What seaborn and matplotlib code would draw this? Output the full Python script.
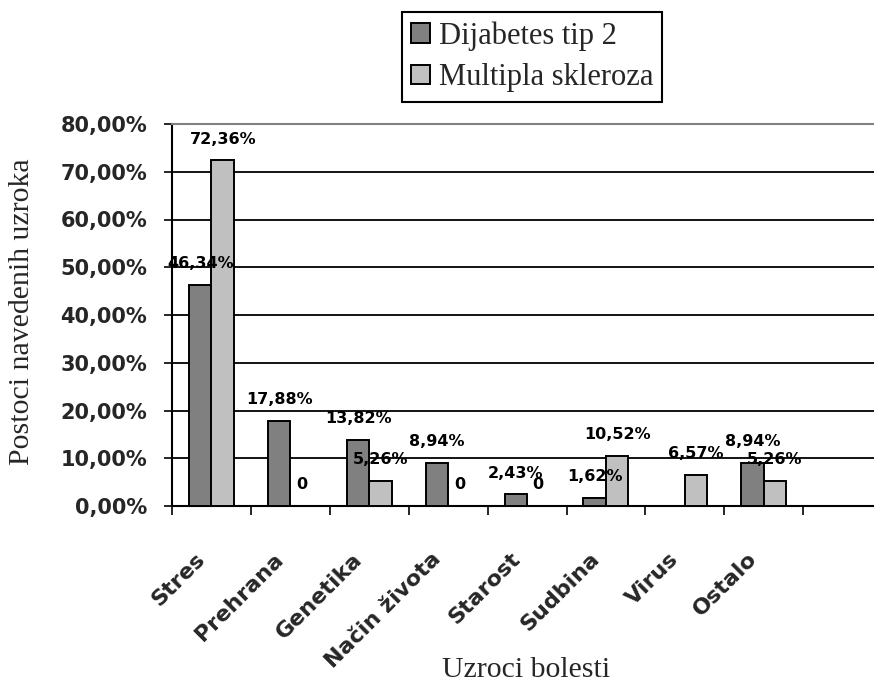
import numpy as np
import pandas as pd
import matplotlib
matplotlib.use("Agg")
import matplotlib.pyplot as plt
import matplotlib.ticker as mticker
import matplotlib.transforms as mtransforms
import seaborn as sns

# ---- data ----
categories = ["Stres", "Prehrana", "Genetika", "Način života", "Starost",
              "Sudbina", "Virus", "Ostalo"]
series_names = ["Dijabetes tip 2", "Multipla skleroza"]
dijabetes = [46.34, 17.88, 13.82, 8.94, 2.43, 1.62, np.nan, 8.94]
multipla = [72.36, 0.0, 5.26, 0.0, 0.0, 10.52, 6.57, 5.26]
colors = ["#808080", "#c0c0c0"]
y_ticks = [0, 10, 20, 30, 40, 50, 60, 70, 80]

df = pd.DataFrame({
    "Uzrok": categories * 2,
    "Bolest": [series_names[0]] * len(categories) + [series_names[1]] * len(categories),
    "Postotak": dijabetes + multipla,
})

sns.set_style("white")
plt.rcParams["font.family"] = ["DejaVu Sans"]

W, H = 874, 682
fig = plt.figure(figsize=(W / 100, H / 100), dpi=100)
ax_l, ax_r, ax_t, ax_b = 172, 874, 124, 506
ax = fig.add_axes([ax_l / W, 1 - ax_b / H, (ax_r - ax_l) / W, (ax_b - ax_t) / H])

sns.barplot(data=df, x="Uzrok", y="Postotak", hue="Bolest", order=categories,
            hue_order=series_names, palette=colors, width=0.57, errorbar=None,
            edgecolor="black", linewidth=1.4, saturation=1, ax=ax, zorder=3)

slot_px = 78.9
ax.set_xlim(-0.5, -0.5 + (ax_r - ax_l) / slot_px)
ax.set_ylim(0, 80)

# y axis
ax.set_yticks(y_ticks)
ax.yaxis.set_major_formatter(mticker.FuncFormatter(lambda v, p: f"{v:.2f}".replace(".", ",") + "%"))
ax.tick_params(axis="y", direction="out", length=6, width=1.4, pad=12,
               labelsize=15, left=True)
for lab in ax.get_yticklabels():
    lab.set_fontweight("bold")
ax.yaxis.grid(True, color="black", linewidth=1.3, zorder=0)
ax.set_axisbelow(True)
for gl in ax.get_ygridlines()[-1:]:
    gl.set_visible(False)

# x axis: major ticks at slot boundaries, labels at centers (minor)
ax.set_xticks(np.arange(-0.5, len(categories), 1.0))
ax.set_xticklabels([])
ax.set_xticks(np.arange(len(categories)), minor=True)
ax.set_xticklabels(categories, minor=True, rotation=45, ha="right", va="center",
                   rotation_mode="anchor", fontsize=16, fontweight="bold")
ax.tick_params(axis="x", which="major", direction="out", length=6.5, width=1.4, bottom=True)
ax.tick_params(axis="x", which="minor", length=0, pad=36)
shift = mtransforms.ScaledTranslation(-10 / 100, 0, fig.dpi_scale_trans)
for lab in ax.get_xticklabels(minor=True):
    lab.set_transform(lab.get_transform() + shift)

for s in ["left", "bottom"]:
    ax.spines[s].set_color("black")
    ax.spines[s].set_linewidth(1.5)
ax.spines["top"].set_color("#808080")
ax.spines["top"].set_linewidth(1.5)
ax.spines["right"].set_visible(False)

ax.set_xlabel("Uzroci bolesti", fontfamily="Liberation Serif", fontsize=21.5)
ax.xaxis.set_label_coords(0.505, -0.395)
ax.xaxis.label.set_va("top")
ax.set_ylabel("Postoci navedenih uzroka", fontfamily="Liberation Serif", fontsize=21.5)
ax.yaxis.set_label_coords(-0.195, 0.508)

# bar labels
for cont in ax.containers:
    labels = []
    for v in cont.datavalues:
        if np.isnan(v):
            labels.append("")
        elif v == 0:
            labels.append("0")
        else:
            labels.append(f"{v:.2f}".replace(".", ",") + "%")
    ax.bar_label(cont, labels=labels, padding=10, fontsize=11.5, fontweight="bold",
                 color="black", zorder=5)

# legend
handles, labels = ax.get_legend_handles_labels()
if ax.get_legend() is not None:
    ax.get_legend().remove()
for h in handles:
    h.set_edgecolor("black")
    h.set_linewidth(1.4)
leg = fig.legend(handles, labels, loc="upper left",
                 bbox_to_anchor=(402 / W, 1 - 12 / H), bbox_transform=fig.transFigure,
                 frameon=True, fancybox=False, edgecolor="black", framealpha=1,
                 prop={"family": "Liberation Serif", "size": 22},
                 handlelength=0.6, handleheight=0.6, handletextpad=0.3,
                 borderpad=0.3, labelspacing=0.42, borderaxespad=0)
leg.get_frame().set_linewidth(1.5)

fig.savefig("out.png", dpi=100)
